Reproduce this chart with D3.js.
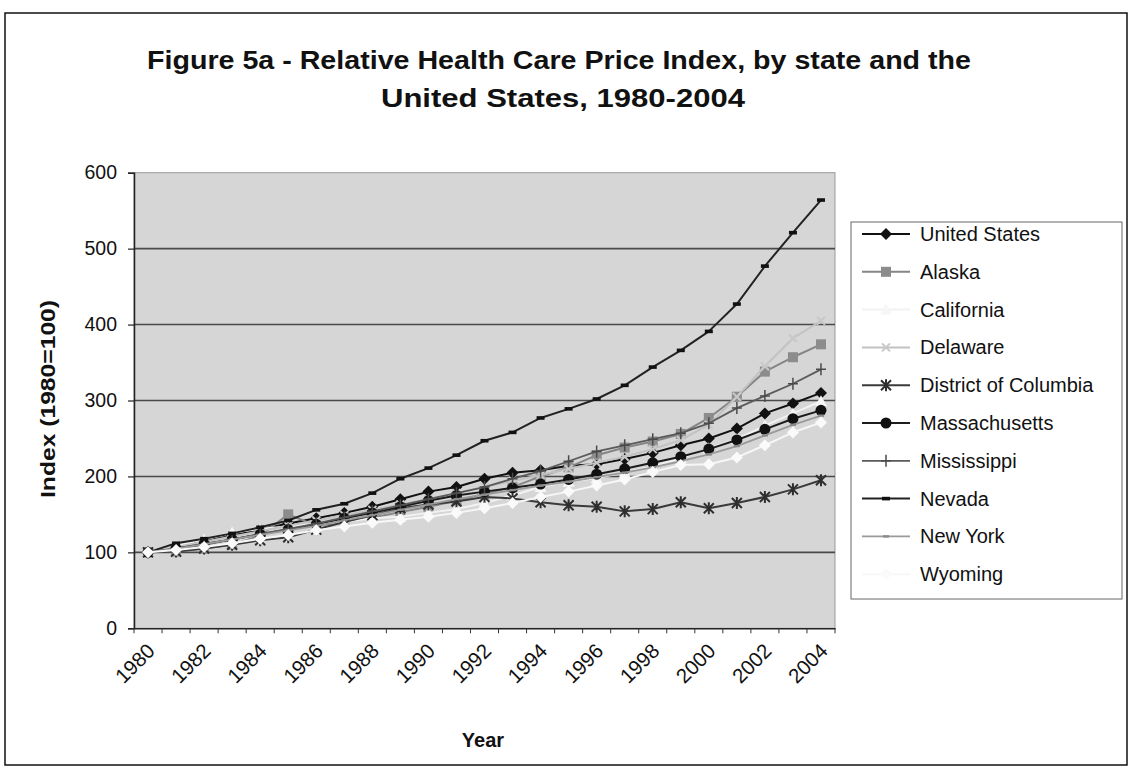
<!DOCTYPE html>
<html><head><meta charset="utf-8">
<script src="https://cdn.jsdelivr.net/npm/d3@7/dist/d3.min.js"></script>
<style>
html,body{margin:0;padding:0;background:#fff;}
svg{display:block;font-family:"Liberation Sans",Arial,sans-serif;}
</style></head>
<body>
<svg id="c" width="1132" height="776"></svg>
<script>
const years = [1980,1981,1982,1983,1984,1985,1986,1987,1988,1989,1990,1991,1992,1993,1994,1995,1996,1997,1998,1999,2000,2001,2002,2003,2004];
const tickLabels = ["1980","1982","1984","1986","1988","1990","1992","1994","1996","1998","2000","2002","2004"];
const yTicks = [0,100,200,300,400,500,600];

const unitedStates   = [100,107,115,122,130,138,145,152,160,170,180,186,197,205,208,214,216,223,231,241,250,263,283,296,310];
const alaska         = [100,101,105,110,122,150,135,140,146,153,160,168,177,186,200,212,228,238,246,256,277,305,338,357,374];
const california     = [100,108,117,126,131,134,138,140,145,147,152,157,165,175,186,193,198,205,213,224,237,249,267,283,299];
const delaware       = [100,107,114,121,128,135,142,149,156,163,170,178,186,194,202,210,218,226,236,248,268,305,345,382,405];
const dc             = [100,101,105,110,116,120,130,140,149,158,163,167,173,171,166,162,160,154,157,166,158,165,173,183,195];
const massachusetts  = [100,105,111,117,124,130,137,145,152,160,168,175,180,185,190,196,203,210,218,226,236,248,262,276,287];
const mississippi    = [100,104,110,117,124,131,138,146,154,162,170,178,186,197,207,220,233,241,249,257,270,290,306,322,341];
const nevada         = [100,112,118,125,133,142,156,164,178,197,211,228,247,258,277,289,302,320,344,366,391,427,477,521,564];
const newYork        = [100,105,111,117,123,129,135,142,149,156,163,170,176,182,188,193,199,205,212,220,229,240,254,268,280];
const wyoming        = [100,103,107,112,118,123,129,134,139,143,147,152,158,165,173,180,188,196,206,215,216,225,241,258,271];

const series = [
  {name:"United States", values:unitedStates, color:"#111", mcolor:"#111", marker:"diamond", w:2},
  {name:"Alaska", values:alaska, color:"#858585", mcolor:"#8c8c8c", marker:"square", w:2},
  {name:"California", values:california, color:"#f2f2f2", mcolor:"#f6f6f6", marker:"triangle", w:2},
  {name:"Delaware", values:delaware, color:"#c2c2c2", mcolor:"#c8c8c8", marker:"x", w:2},
  {name:"District of Columbia", values:dc, color:"#3a3a3a", mcolor:"#2e2e2e", marker:"star", w:2},
  {name:"Massachusetts", values:massachusetts, color:"#1c1c1c", mcolor:"#111", marker:"circle", w:2},
  {name:"Mississippi", values:mississippi, color:"#5a5a5a", mcolor:"#4a4a4a", marker:"plus", w:1.8},
  {name:"Nevada", values:nevada, color:"#222", mcolor:"#111", marker:"dash", w:2},
  {name:"New York", values:newYork, color:"#9a9a9a", mcolor:"#8a8a8a", marker:"smalldash", w:1.8},
  {name:"Wyoming", values:wyoming, color:"#f7f7f7", mcolor:"#fafafa", marker:"diamond", w:2}
];

const svg = d3.select("#c");
const P = {l:134, r:835, t:172.7, b:628.3};
const FONT = "Liberation Sans, Arial, sans-serif";

// outer frame
svg.append("rect").attr("x",5).attr("y",13).attr("width",1122).attr("height",752)
  .attr("fill","#fff").attr("stroke","#111").attr("stroke-width",1.5);

// title
svg.append("text").attr("x",559).attr("y",69).attr("text-anchor","middle")
  .attr("font-size",25).attr("font-weight","bold").attr("fill","#111")
  .attr("textLength",824).attr("lengthAdjust","spacingAndGlyphs")
  .text("Figure 5a - Relative Health Care Price Index, by state and the");
svg.append("text").attr("x",563).attr("y",107).attr("text-anchor","middle")
  .attr("font-size",25).attr("font-weight","bold").attr("fill","#111")
  .attr("textLength",364).attr("lengthAdjust","spacingAndGlyphs")
  .text("United States, 1980-2004");

const x = d3.scaleBand().domain(years).range([P.l,P.r]).padding(0);
const xc = d => x(d) + x.bandwidth()/2;
const y = d3.scaleLinear().domain([0,600]).range([P.b,P.t]);

// plot area
svg.append("rect").attr("x",P.l).attr("y",P.t).attr("width",P.r-P.l).attr("height",P.b-P.t)
  .attr("fill","#d6d6d6").attr("stroke","#9a9a9a").attr("stroke-width",1);

// gridlines
svg.append("g").selectAll("line").data(yTicks.filter(v=>v>0 && v<600)).join("line")
  .attr("x1",P.l).attr("x2",P.r).attr("y1",d=>y(d)).attr("y2",d=>y(d))
  .attr("stroke","#4a4a4a").attr("stroke-width",1.6);

// y axis
const yAxis = d3.axisLeft(y).tickValues(yTicks).tickSize(6).tickPadding(11).tickFormat(d3.format("d"));
const gy = svg.append("g").attr("transform",`translate(${P.l},0)`).call(yAxis)
  .attr("font-size",19.5).attr("font-family",FONT);
gy.select(".domain").attr("stroke","#222").attr("stroke-width",1.5);
gy.selectAll(".tick line").attr("stroke","#222").attr("stroke-width",1.2);
gy.selectAll(".tick text").attr("fill","#111");

// x axis
const xAxis = d3.axisBottom(x).tickValues([]).tickSize(0);
const gx = svg.append("g").attr("transform",`translate(0,${P.b})`).call(xAxis)
  .attr("font-size",20.5).attr("font-family",FONT);
gx.select(".domain").attr("stroke","#222").attr("stroke-width",1.6);
gx.selectAll("line.bt").data(years.concat([null])).join("line").attr("class","bt")
  .attr("x1",(d,i)=>P.l + i*x.bandwidth()).attr("x2",(d,i)=>P.l + i*x.bandwidth())
  .attr("y1",0).attr("y2",5).attr("stroke","#333").attr("stroke-width",1);
gx.selectAll("text.lab").data(tickLabels).join("text").attr("class","lab")
  .attr("transform",d=>`translate(${xc(+d)+8},${24}) rotate(-45)`)
  .attr("text-anchor","end").attr("fill","#111").text(d=>d);

// axis titles
svg.append("text").attr("transform","translate(55,399) rotate(-90)").attr("text-anchor","middle")
  .attr("font-size",20).attr("font-weight","bold").attr("fill","#111")
  .attr("textLength",198).attr("lengthAdjust","spacingAndGlyphs").text("Index (1980=100)");
svg.append("text").attr("x",483).attr("y",747).attr("text-anchor","middle")
  .attr("font-size",20).attr("font-weight","bold").attr("fill","#111").text("Year");

// marker drawing
function drawMarker(g, type, cx, cy, col){
  switch(type){
    case "diamond":
      g.append("path").attr("d",`M${cx},${cy-6}L${cx+6},${cy}L${cx},${cy+6}L${cx-6},${cy}Z`).attr("fill",col); break;
    case "square":
      g.append("rect").attr("x",cx-5).attr("y",cy-5).attr("width",10).attr("height",10).attr("fill",col); break;
    case "triangle":
      g.append("path").attr("d",`M${cx},${cy-6}L${cx+6},${cy+5}L${cx-6},${cy+5}Z`).attr("fill",col); break;
    case "x":
      g.append("path").attr("d",`M${cx-4},${cy-4}L${cx+4},${cy+4}M${cx+4},${cy-4}L${cx-4},${cy+4}`).attr("stroke",col).attr("stroke-width",2); break;
    case "star":
      g.append("path").attr("d",`M${cx-5},${cy-5}L${cx+5},${cy+5}M${cx+5},${cy-5}L${cx-5},${cy+5}M${cx},${cy-6}L${cx},${cy+6}`).attr("stroke",col).attr("stroke-width",2); break;
    case "circle":
      g.append("circle").attr("cx",cx).attr("cy",cy).attr("r",5.5).attr("fill",col); break;
    case "plus":
      g.append("path").attr("d",`M${cx-5},${cy}L${cx+5},${cy}M${cx},${cy-6}L${cx},${cy+6}`).attr("stroke",col).attr("stroke-width",1.5); break;
    case "dash":
      g.append("rect").attr("x",cx-4).attr("y",cy-1.8).attr("width",8).attr("height",3.6).attr("fill",col); break;
    case "smalldash":
      g.append("rect").attr("x",cx-3).attr("y",cy-1.2).attr("width",6).attr("height",2.4).attr("fill",col); break;
  }
}

const line = d3.line().x((d,i)=>xc(years[i])).y(d=>y(d));
const plot = svg.append("g");
series.forEach(s=>{
  const g = plot.append("g");
  g.append("path").attr("d",line(s.values)).attr("fill","none")
    .attr("stroke",s.color).attr("stroke-width",s.w).attr("stroke-linejoin","round");
  s.values.forEach((v,i)=>drawMarker(g, s.marker, xc(years[i]), y(v), s.mcolor));
});

// legend
const L = {x:851, y:222, w:271, h:377};
svg.append("rect").attr("x",L.x).attr("y",L.y).attr("width",L.w).attr("height",L.h)
  .attr("fill","#fff").attr("stroke","#666").attr("stroke-width",1);
const ly = d3.scalePoint().domain(series.map(s=>s.name)).range([L.y+12, L.y+12+37.8*9]);
series.forEach(s=>{
  const yy = ly(s.name);
  const g = svg.append("g");
  g.append("line").attr("x1",862).attr("x2",910).attr("y1",yy).attr("y2",yy)
    .attr("stroke",s.color).attr("stroke-width",s.w);
  drawMarker(g, s.marker, 886, yy, s.mcolor);
  g.append("text").attr("x",920).attr("y",yy+7).attr("font-size",20).attr("fill","#111").text(s.name);
});
</script>
</body></html>
